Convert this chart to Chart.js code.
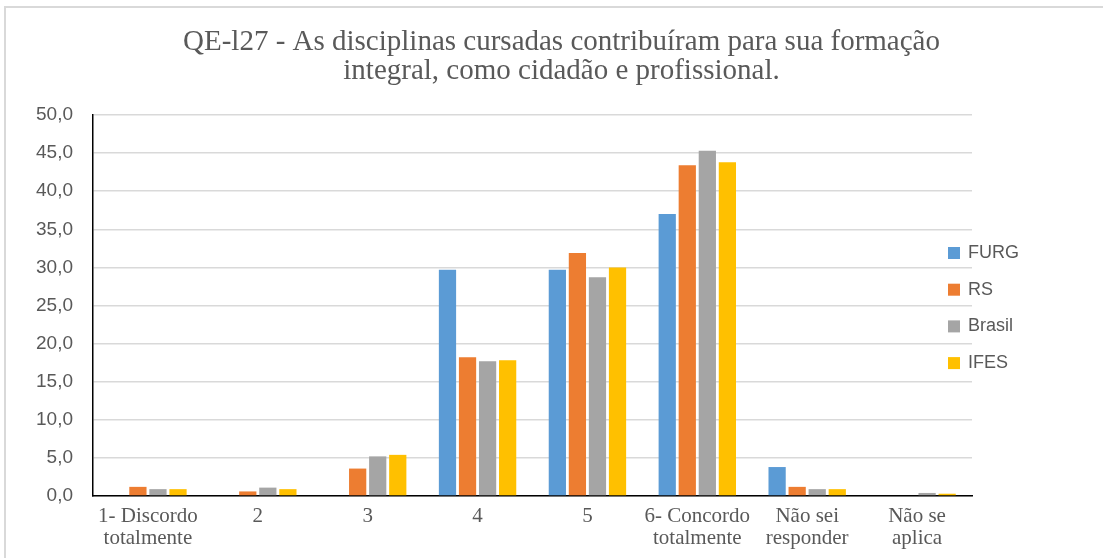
<!DOCTYPE html>
<html>
<head>
<meta charset="utf-8">
<script src="https://cdn.jsdelivr.net/npm/chart.js@4/dist/chart.umd.min.js"></script>
<style>
  html, body { margin: 0; padding: 0; background: #fff; overflow: hidden; }
  #frame { position: absolute; left: 4px; top: 6px; width: 1110px; height: 570px; border: 2px solid #d9d9d9; }
  #wrap { position: absolute; left: 0; top: 0; width: 1103px; height: 558px; }
</style>
</head>
<body>
<div id="frame"></div>
<div id="wrap"><canvas id="chart"></canvas></div>
<script>
const categories = [
  ['1- Discordo', 'totalmente'], '2', '3', '4', '5',
  ['6- Concordo', 'totalmente'], ['Não sei', 'responder'], ['Não se', 'aplica']
];
const furg   = [0,   0,   0,   29.7, 29.7, 37.0, 3.8, 0];
const rs     = [1.2, 0.6, 3.6, 18.2, 31.9, 43.4, 1.2, 0];
const brasil = [0.9, 1.1, 5.2, 17.7, 28.7, 45.3, 0.9, 0.4];
const ifes   = [0.9, 0.9, 5.4, 17.8, 30.0, 43.8, 0.9, 0.3];
const seriesNames = ['FURG', 'RS', 'Brasil', 'IFES'];
const seriesColors = ['#5B9BD5', '#ED7D31', '#A5A5A5', '#FFC000'];
const yTicks = [0, 5, 10, 15, 20, 25, 30, 35, 40, 45, 50];
const titleLines = [
  'QE-l27 - As disciplinas cursadas contribuíram para sua formação',
  'integral, como cidadão e profissional.'
];

// legend drawn on the right, overlapping the end of the gridlines like the original
const sideLegend = {
  id: 'sideLegend',
  afterDraw(chart) {
    const ctx = chart.ctx;
    ctx.save();
    ctx.font = '18px "Liberation Sans", Arial, sans-serif';
    ctx.textBaseline = 'middle';
    chart.data.datasets.forEach((ds, i) => {
      const y = 253 + i * 36.7;
      ctx.fillStyle = ds.backgroundColor;
      ctx.fillRect(948, y - 6, 12, 12);
      ctx.fillStyle = '#595959';
      ctx.fillText(ds.label, 968, y);
    });
    ctx.restore();
  }
};

const ctx = document.getElementById('chart');
new Chart(ctx, {
  type: 'bar',
  data: {
    labels: categories,
    datasets: [furg, rs, brasil, ifes].map((d, i) => ({
      label: seriesNames[i],
      data: d,
      backgroundColor: seriesColors[i],
      categoryPercentage: 0.73,
      barPercentage: 0.86
    }))
  },
  options: {
    responsive: true,
    maintainAspectRatio: false,
    animation: false,
    layout: { padding: { left: 20, right: 0, top: 0, bottom: 0 } },
    plugins: {
      legend: { display: false },
      tooltip: { enabled: false },
      title: {
        display: true,
        text: titleLines,
        color: '#595959',
        font: { family: '"Liberation Serif", "Times New Roman", serif', size: 29, weight: 'normal', lineHeight: 1.0 },
        padding: { top: 28, bottom: 29 }
      }
    },
    scales: {
      x: {
        grid: { display: false, drawTicks: false },
        border: { color: '#000', width: 1.5 },
        ticks: {
          color: '#595959',
          font: { family: '"Liberation Serif", "Times New Roman", serif', size: 21, lineHeight: 1.05 },
          padding: 9,
          maxRotation: 0,
          autoSkip: false
        },
        afterFit(scale) { scale.height = 62; }
      },
      y: {
        min: 0,
        max: 50,
        afterBuildTicks(scale) { scale.ticks = yTicks.map(v => ({ value: v })); },
        grid: { color: '#d9d9d9', lineWidth: 1.5, drawTicks: false },
        border: { color: '#000', width: 1.5 },
        ticks: {
          color: '#595959',
          font: { family: '"Liberation Sans", Arial, sans-serif', size: 19 },
          padding: 20,
          callback: v => v.toFixed(1).replace('.', ',')
        },
        afterFit(scale) { scale.width = 73; }
      },
      // empty right-hand band that holds the legend area
      side: {
        axis: 'y',
        position: 'right',
        grid: { display: false, drawTicks: false },
        border: { display: false },
        ticks: { display: false },
        afterFit(scale) { scale.width = 131; }
      }
    }
  },
  plugins: [sideLegend]
});
</script>
</body>
</html>
